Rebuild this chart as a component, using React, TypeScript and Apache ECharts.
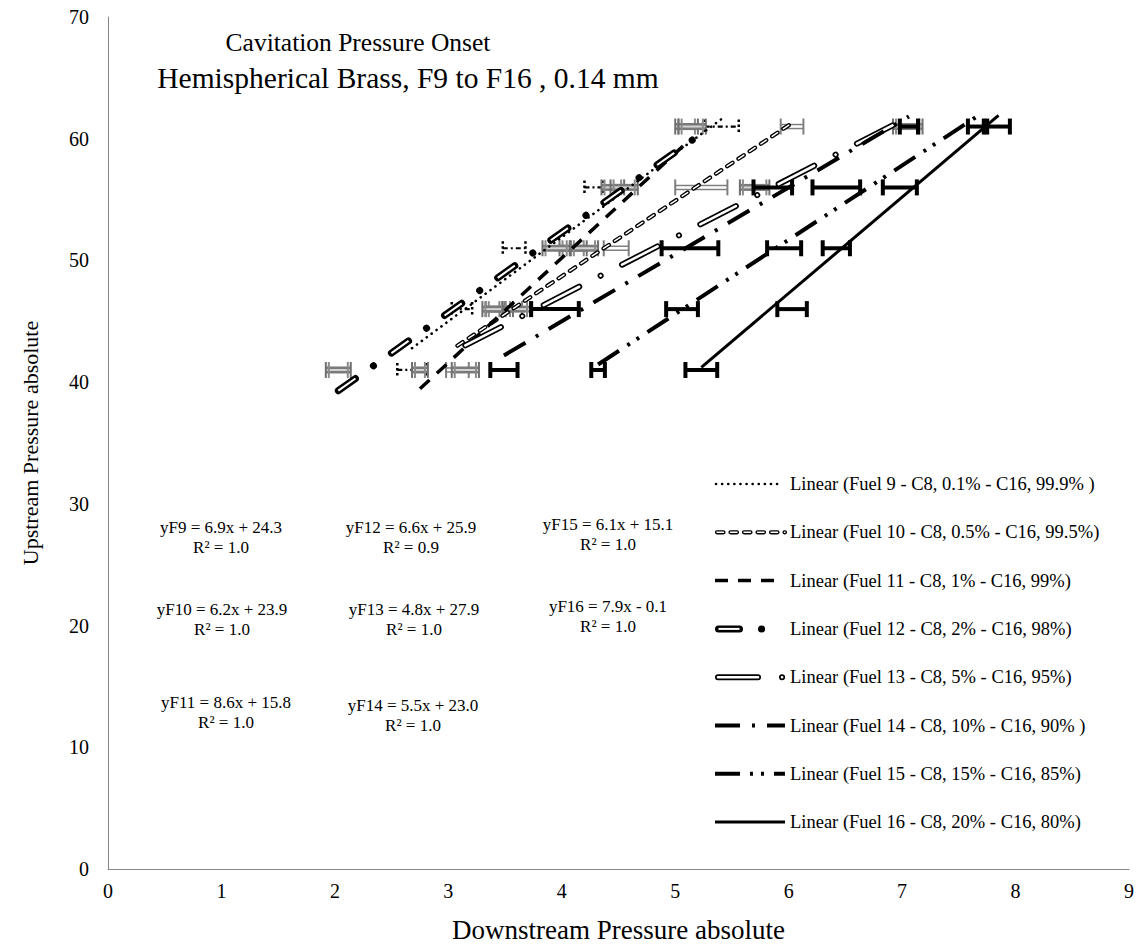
import React, { useEffect, useRef } from "react";
import * as echarts from "echarts";

// ---------- DATA ----------
const yLevels = [41, 46, 51, 56, 61];
const fuelIds = [9, 10, 11, 12, 13, 14, 15, 16];
const legendNames = [
  "Linear (Fuel 9 - C8, 0.1% - C16, 99.9% )",
  "Linear (Fuel 10 - C8, 0.5% - C16, 99.5%)",
  "Linear (Fuel 11 - C8, 1% - C16, 99%)",
  "Linear (Fuel 12 - C8, 2% - C16, 98%)",
  "Linear (Fuel 13 - C8, 5% - C16, 95%)",
  "Linear (Fuel 14 - C8, 10% - C16, 90% )",
  "Linear (Fuel 15 - C8, 15% - C16, 85%)",
  "Linear (Fuel 16 - C8, 20% - C16, 80%)",
];
const slopes = [6.9, 6.2, 8.6, 6.6, 4.8, 5.5, 6.1, 7.9];
const intercepts = [24.3, 23.9, 15.8, 25.9, 27.9, 23.0, 15.1, -0.1];
const rSquared = [1.0, 1.0, 1.0, 0.9, 1.0, 1.0, 1.0, 1.0];

// downstream pressure at each upstream level (41,46,51,56,61)
const f9X = [2.68, 3.12, 3.58, 4.28, 5.41];
const f10X = [3.08, 3.55, 4.48, 5.23, 6.03];
const f11X = [2.75, 3.45, 4.1, 4.45, 5.1];
const f12X = [2.03, 3.4, 3.95, 4.55, 5.15];
const f13X = [3.15, 3.6, 4.2, 5.7, 7.05];
const f14X = [3.49, 3.94, 5.13, 5.86, 7.06];
const f15X = [4.32, 5.06, 5.96, 6.42, 7.65];
const f16X = [5.23, 6.03, 6.42, 6.98, 7.85];

// horizontal error (±)
const f9Err = [0.13, 0.09, 0.1, 0.08, 0.15];
const f10Err = [0.1, 0.1, 0.11, 0.23, 0.1];
const f11Err = [0.07, 0.12, 0.12, 0.1, 0.1];
const f12Err = [0.11, 0.1, 0.12, 0.12, 0.12];
const f13Err = [0.12, 0.12, 0.12, 0.13, 0.13];
const f14Err = [0.12, 0.21, 0.25, 0.17, 0.08];
const f15Err = [0.06, 0.14, 0.15, 0.21, 0.07];
const f16Err = [0.14, 0.13, 0.12, 0.15, 0.1];

const xTicks = [0, 1, 2, 3, 4, 5, 6, 7, 8, 9];
const yTicks = [0, 10, 20, 30, 40, 50, 60, 70];

// ---------- STYLES / LAYOUT ----------
const FONT = "Liberation Serif, serif";
const fuelX = [f9X, f10X, f11X, f12X, f13X, f14X, f15X, f16X];
const fuelErr = [f9Err, f10Err, f11Err, f12Err, f13Err, f14Err, f15Err, f16Err];
const barStyleKeys = ["dotted", "double", "gray", "gray", "gray", "black", "black", "black"];

type Layer = { color: string; width: number; dash?: number[]; cap: "butt" | "round" };
const trendStyles: Layer[][] = [
  [{ color: "#000", width: 2.6, dash: [0.1, 6], cap: "round" }],
  [
    { color: "#000", width: 4.2, dash: [6.5, 7], cap: "round" },
    { color: "#fff", width: 1.5, dash: [6.5, 7], cap: "round" },
  ],
  [{ color: "#000", width: 3.5, dash: [13, 10], cap: "butt" }],
  [
    { color: "#000", width: 7, dash: [21, 22, 0.1, 22], cap: "round" },
    { color: "#fff", width: 2, dash: [21, 44.1], cap: "butt" },
  ],
  [
    { color: "#000", width: 6, dash: [40, 24, 0.1, 24], cap: "round" },
    { color: "#fff", width: 2.6, dash: [40, 24, 0.1, 24], cap: "round" },
  ],
  [{ color: "#000", width: 4, dash: [25, 12, 3, 12], cap: "butt" }],
  [{ color: "#000", width: 4, dash: [25, 10, 3, 8, 3, 10], cap: "butt" }],
  [{ color: "#000", width: 3, cap: "butt" }],
];

const legendX1 = [716, 717, 715, 718.5, 718, 715, 715, 715];
const legendX2 = [778, 785, 776, 768, 786, 785, 785, 785];
const legendTop = 484;
const legendStep = 48.3;

const eqPos: [number, number][] = [
  [221, 527], [222, 609], [226, 702],
  [411, 527], [414, 609], [413, 705],
  [608, 524], [608, 606],
];

function seg(x1: number, y1: number, x2: number, y2: number, stroke: string, lineWidth: number, lineDash?: number[]) {
  return {
    type: "line",
    shape: { x1, y1, x2, y2 },
    style: { stroke, lineWidth, lineDash: lineDash || null, fill: null },
  };
}

function barShapes(kind: string, x1: number, x2: number, y: number) {
  const ch: any[] = [];
  if (kind === "black") {
    ch.push(seg(x1, y, x2, y, "#000", 4));
    ch.push(seg(x1, y - 8, x1, y + 8, "#000", 4));
    ch.push(seg(x2, y - 8, x2, y + 8, "#000", 4));
  } else if (kind === "gray") {
    ch.push(seg(x1, y, x2, y, "#7a7a7a", 7));
    ch.push(seg(x1, y, x2, y, "#d4d4d4", 2));
    [x1, x2].forEach((x, k) => {
      const d = k === 0 ? 3 : -3;
      ch.push(seg(x, y - 8, x, y + 8, "#6f6f6f", 2));
      ch.push(seg(x + d, y - 8, x + d, y + 8, "#8a8a8a", 2));
    });
  } else if (kind === "double") {
    ch.push(seg(x1, y - 2, x2, y - 2, "#7f7f7f", 1.5));
    ch.push(seg(x1, y + 2, x2, y + 2, "#7f7f7f", 1.5));
    ch.push(seg(x1, y - 8, x1, y + 8, "#7f7f7f", 2));
    ch.push(seg(x2, y - 8, x2, y + 8, "#7f7f7f", 2));
  } else {
    ch.push(seg(x1, y, x2, y, "#000", 2.2, [5, 3, 2, 3]));
    ch.push(seg(x1, y - 7, x1, y + 7, "#000", 2.5, [2.5, 2.5]));
    ch.push(seg(x2, y - 7, x2, y + 7, "#000", 2.5, [2.5, 2.5]));
  }
  return ch;
}

function fmt(v: number) {
  return v.toFixed(1);
}

function txt(text: string, x: number, y: number, size: number, align = "center") {
  return {
    type: "text",
    x,
    y,
    style: { text, fill: "#000", fontSize: size, fontFamily: FONT, align, verticalAlign: "middle" },
  };
}

function buildOption() {
  const errorSeries = fuelX.map((xs, i) => ({
    type: "custom",
    name: `Fuel ${fuelIds[i]}`,
    coordinateSystem: "cartesian2d",
    silent: true,
    z: 2,
    encode: { x: 0, y: 1 },
    data: xs.map((x, k) => [x, yLevels[k], fuelErr[i][k]]),
    renderItem: (_params: any, api: any) => {
      const x = api.value(0);
      const y = api.value(1);
      const e = api.value(2);
      const p1 = api.coord([x - e, y]);
      const p2 = api.coord([x + e, y]);
      return { type: "group", children: barShapes(barStyleKeys[i], p1[0], p2[0], p1[1]) };
    },
  }));

  const trendSeries: any[] = [];
  fuelX.forEach((xs, i) => {
    const xmin = Math.min(...xs);
    const xmax = Math.max(...xs);
    const line = [
      [xmin, slopes[i] * xmin + intercepts[i]],
      [xmax, slopes[i] * xmax + intercepts[i]],
    ];
    trendStyles[i].forEach((layer) => {
      trendSeries.push({
        type: "line",
        name: legendNames[i],
        data: line,
        symbol: "none",
        showSymbol: false,
        silent: true,
        z: 3,
        lineStyle: {
          color: layer.color,
          width: layer.width,
          type: layer.dash ? layer.dash : "solid",
          cap: layer.cap,
        },
      });
    });
  });

  const graphics: any[] = [];
  graphics.push(txt("Cavitation Pressure Onset", 358, 42, 25.5));
  graphics.push(txt("Hemispherical Brass, F9 to F16 , 0.14 mm", 408, 78, 29.5));

  fuelIds.forEach((id, i) => {
    const b = intercepts[i];
    const eq = `yF${id} = ${fmt(slopes[i])}x ${b >= 0 ? "+" : "-"} ${fmt(Math.abs(b))}`;
    const [cx, cy] = eqPos[i];
    graphics.push(txt(eq, cx, cy, 17));
    graphics.push(txt(`R² = ${fmt(rSquared[i])}`, cx, cy + 20, 17));
  });

  legendNames.forEach((name, i) => {
    const y = legendTop + i * legendStep;
    trendStyles[i].forEach((layer) => {
      graphics.push({
        type: "line",
        shape: { x1: legendX1[i], y1: y, x2: legendX2[i], y2: y },
        style: { stroke: layer.color, lineWidth: layer.width, lineDash: layer.dash || null, lineCap: layer.cap },
      });
    });
    graphics.push(txt(name, 790, y, 18.5, "left"));
  });

  return {
    animation: false,
    backgroundColor: "#fff",
    textStyle: { fontFamily: FONT },
    grid: { left: 108, right: 10, top: 17, bottom: 77, containLabel: false },
    xAxis: {
      type: "value",
      min: xTicks[0],
      max: xTicks[xTicks.length - 1],
      interval: 1,
      name: "Downstream Pressure absolute",
      nameLocation: "middle",
      nameGap: 47,
      nameTextStyle: { fontSize: 27, fontFamily: FONT, color: "#000" },
      axisLine: { show: true, lineStyle: { color: "#868686", width: 1 } },
      axisTick: { show: false },
      splitLine: { show: false },
      axisLabel: { fontSize: 20, fontFamily: FONT, color: "#000", margin: 12 },
    },
    yAxis: {
      type: "value",
      min: yTicks[0],
      max: yTicks[yTicks.length - 1],
      interval: 10,
      name: "Upstream Pressure absolute",
      nameLocation: "middle",
      nameGap: 67,
      nameTextStyle: { fontSize: 22, fontFamily: FONT, color: "#000" },
      axisLine: { show: true, lineStyle: { color: "#868686", width: 1 } },
      axisTick: { show: false },
      splitLine: { show: false },
      axisLabel: { fontSize: 20, fontFamily: FONT, color: "#000", margin: 19 },
    },
    series: [...errorSeries, ...trendSeries],
    graphic: graphics,
  };
}

export default function App() {
  const ref = useRef<HTMLDivElement>(null);
  useEffect(() => {
    if (!ref.current) return;
    const chart = echarts.init(ref.current, undefined, { renderer: "svg" });
    chart.setOption(buildOption() as any);
    return () => chart.dispose();
  }, []);
  return (
    <div
      ref={ref}
      style={{ position: "absolute", left: 0, top: 0, width: 1139, height: 948, background: "#fff" }}
    />
  );
}
